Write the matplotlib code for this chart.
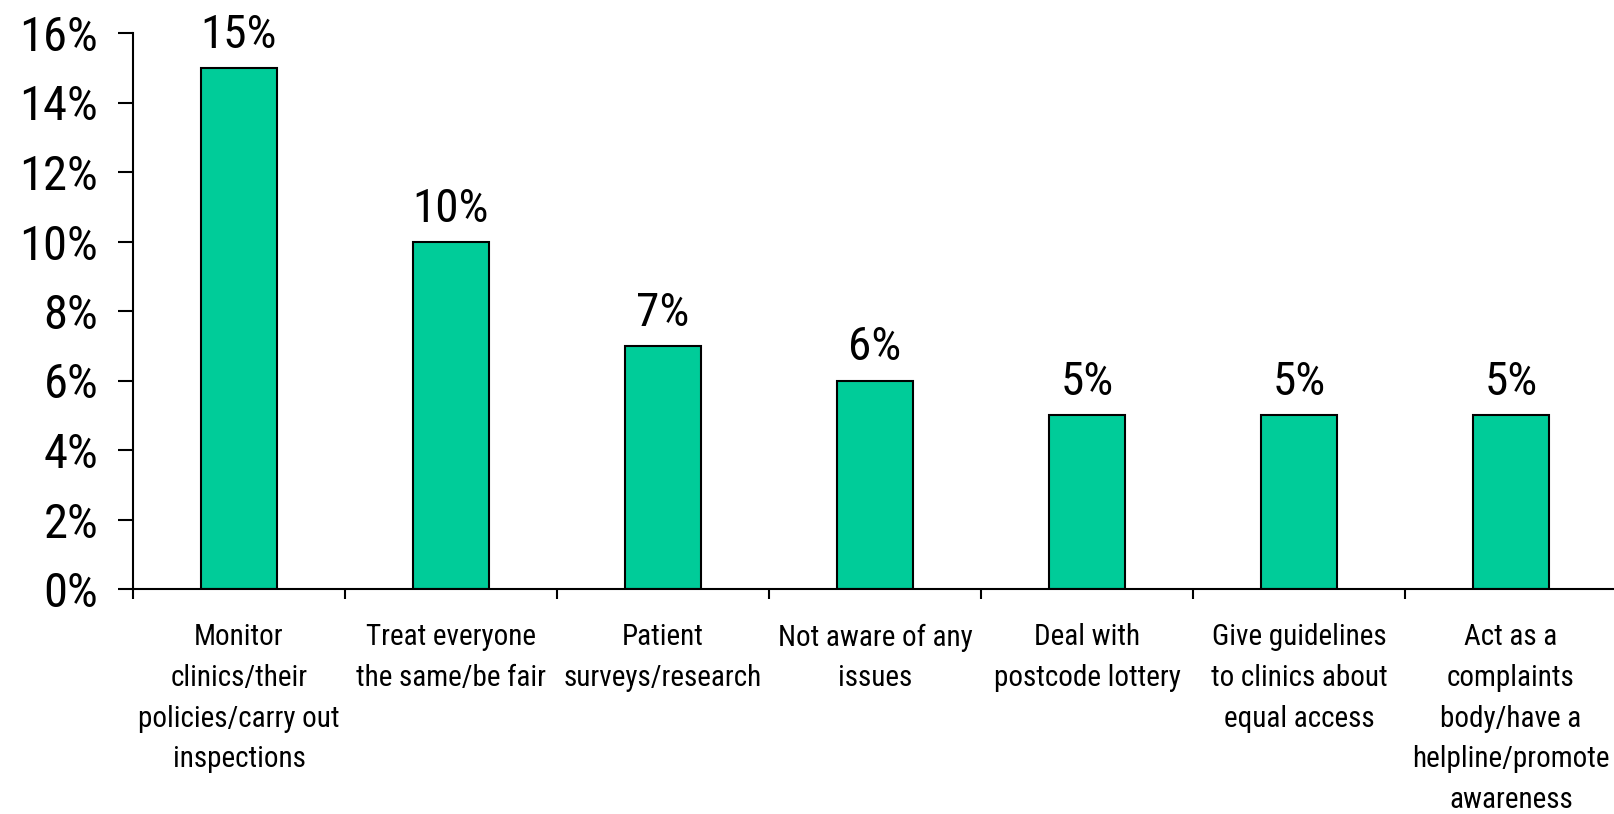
import matplotlib
matplotlib.use('Agg')
import matplotlib.pyplot as plt
import numpy as np

categories = ['Monitor\nclinics/their\npolicies/carry out\ninspections',
              'Treat everyone\nthe same/be fair',
              'Patient\nsurveys/research',
              'Not aware of any\nissues',
              'Deal with\npostcode lottery',
              'Give guidelines\nto clinics about\nequal access',
              'Act as a\ncomplaints\nbody/have a\nhelpline/promote\nawareness']
values = [15, 10, 7, 6, 5, 5, 5]
yticks = [0, 2, 4, 6, 8, 10, 12, 14, 16]

plt.rcParams['font.family'] = ['Liberation Sans Narrow', 'Roboto Condensed', 'Noto Sans', 'DejaVu Sans']
plt.rcParams['font.stretch'] = 'condensed'

W, H = 1614, 814
fig = plt.figure(figsize=(W / 100, H / 100), dpi=100)
# axes box in pixels: left 133, right 1617, bottom 589, top 33
ax = fig.add_axes([133 / W, (H - 589) / H, (1617 - 133) / W, (589 - 33) / H])

x = np.arange(len(values))
ax.bar(x, values, width=0.363, color='#00CC99', edgecolor='black', linewidth=1.5)

for xi, v in zip(x, values):
    ax.annotate(f'{v}%', (xi, v), xytext=(0, 11), textcoords='offset pixels',
                ha='center', va='bottom', fontsize=34)

ax.set_xlim(-0.5, len(values) - 0.5)
ax.set_ylim(0, 16)
ax.set_yticks(yticks)
ax.set_yticklabels([f'{t}%' for t in yticks], fontsize=35)
ax.tick_params(axis='y', length=11, width=1.5, pad=14)

# category boundary ticks on the x axis, labels centred under each bar
ax.set_xticks(np.arange(len(values) + 1) - 0.5)
ax.set_xticklabels([])
ax.tick_params(axis='x', length=7, width=1.5)
for xi, c in zip(x, categories):
    ax.text(xi, -0.062, c, transform=ax.get_xaxis_transform(), ha='center', va='top',
            fontsize=21, linespacing=1.57)

for side in ['top', 'right']:
    ax.spines[side].set_visible(False)
for side in ['left', 'bottom']:
    ax.spines[side].set_linewidth(1.5)

fig.savefig('out.png', dpi=100)
